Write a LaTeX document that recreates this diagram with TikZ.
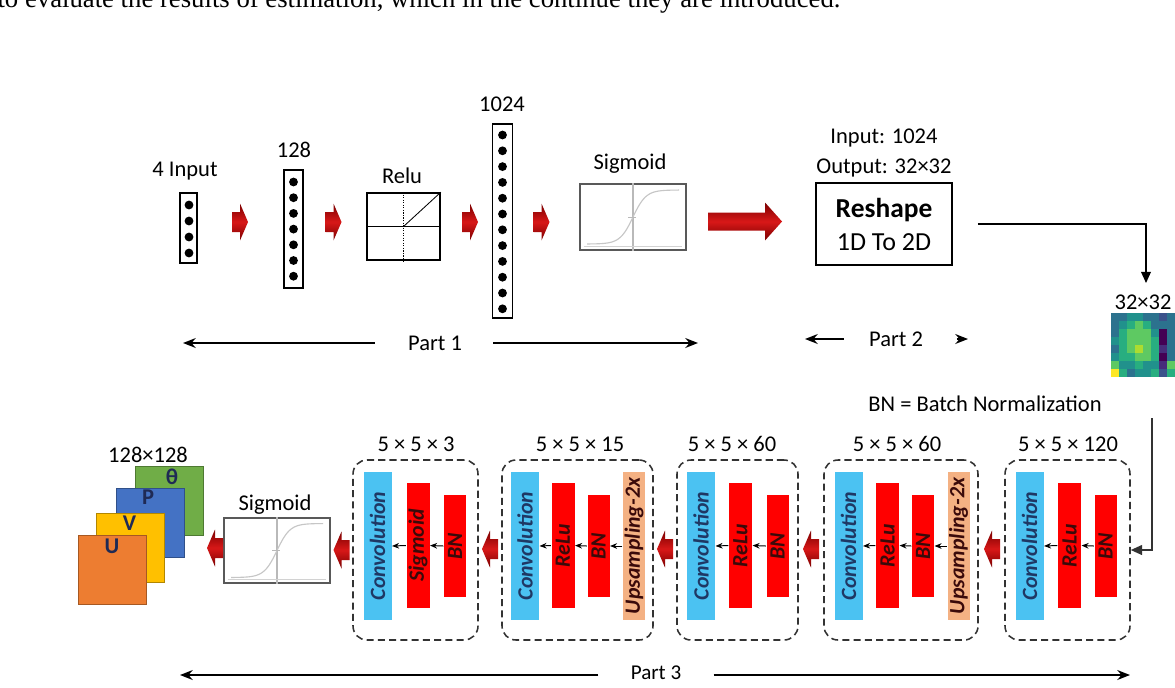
\documentclass[tikz,border=0pt]{standalone}
\usepackage{fontspec}
\setmainfont{Carlito}
\newfontfamily\pageserif{Liberation Serif}
\usetikzlibrary{arrows.meta,calc}

\definecolor{convblue}{HTML}{4BC2F2}
\definecolor{bnred}{HTML}{FF0000}
\definecolor{upsamp}{HTML}{F4B183}
\definecolor{convtext}{HTML}{1F3864}
\definecolor{redtext}{HTML}{3A0A0A}
\definecolor{chantext}{HTML}{1F2A55}
\definecolor{arrdark}{HTML}{7A0000}
\definecolor{arrlight}{HTML}{D81818}
\definecolor{chU}{HTML}{ED7D31}
\definecolor{chV}{HTML}{FFC000}
\definecolor{chP}{HTML}{4472C4}
\definecolor{chT}{HTML}{70AD47}
\definecolor{vir0}{HTML}{440154}
\definecolor{vir1}{HTML}{472D7B}
\definecolor{vir2}{HTML}{3B528B}
\definecolor{vir3}{HTML}{2C728E}
\definecolor{vir4}{HTML}{21918C}
\definecolor{vir5}{HTML}{28AE80}
\definecolor{vir6}{HTML}{5EC962}
\definecolor{vir7}{HTML}{ADDC30}
\definecolor{vir8}{HTML}{FDE725}

\tikzset{
  sz/.style 2 args={minimum width=#1*0.025cm, minimum height=#2*0.025cm, inner sep=0pt},
  layer/.style={draw, line width=1.2pt},
  plotbox/.style={draw=gray!70!black, line width=1.6pt, fill=white},
  stage/.style={draw=black!80, rounded corners=0.35cm, line width=1.1pt, dash pattern=on 5pt off 3pt},
  bar/.style={rotate=90, font=\fontsize{15.5}{17}\selectfont\bfseries\itshape, inner sep=0pt},
  conv/.style={bar, fill=convblue, text=convtext, sz={148}{28}},
  act/.style={bar, fill=bnred, text=redtext, sz={125}{23}},
  bn/.style={bar, fill=bnred, text=redtext, sz={102}{22}},
  ups/.style={bar, fill=upsamp, text=redtext, sz={148}{22}},
  flow/.style={-{Stealth[length=5pt,width=4pt]}, line width=0.7pt},
  part/.style={-{Stealth[length=9pt,width=7pt]}, line width=1.3pt},
  chan/.style={draw=#1!70!black, fill=#1, sz={68}{69}, line width=0.6pt},
  chanlbl/.style={font=\fontsize{16}{17}\selectfont\bfseries, text=chantext},
  pics/redarrow/.style n args={4}{code={
    \shade[top color=arrdark, bottom color=arrdark, middle color=arrlight]
      ({-#1/2},{-#3}) -- ({#1/2-#2},{-#3}) -- ({#1/2-#2},{-#4}) -- ({#1/2},0)
      -- ({#1/2-#2},{#4}) -- ({#1/2-#2},{#3}) -- ({-#1/2},{#3}) -- cycle;
  }}
}

\begin{document}
\begin{tikzpicture}[x=0.025cm, y=-0.025cm, thick,
  every node/.style={font=\fontsize{16}{18}\selectfont}]
\useasboundingbox (0,0) rectangle (1175,687);
\clip (0,0) rectangle (1175,687);

\node[anchor=base west, inner sep=0pt, font=\pageserif\fontsize{19}{22}\selectfont] (pagetext) at (-3,7.5)
  {to evaluate the results of estimation, which in the continue they are introduced.};

% dense part
\node[layer, sz={17}{70}] (inp) at (188.5,228) {};
\foreach \y in {205,221,237,253} \fill (189,\y) circle (0.11cm);
\node[layer, sz={19}{118}] (hid1) at (293.5,229) {};
\foreach \i in {0,...,6} \fill (293.5,{182+15.7*\i}) circle (0.11cm);
\node[layer, sz={73}{67}] (relu) at (403.5,226.5) {};
\draw (relu.west) -- (relu.east);
\draw[densely dotted] (relu.north) -- (relu.south);
\draw[line width=0.6pt] (relu.center) -- (relu.north east);
\node[layer, sz={20}{194}] (hid2) at (502.5,221) {};
\foreach \i in {0,...,11} \fill (502.5,{135+15.8*\i}) circle (0.11cm);
\node[plotbox, sz={106}{66}] (sig1) at (633,217) {};

\node (inptxt) at (185,171) {4 Input};
\node (hid1txt) at (294,150) {128};
\node (relutxt) at (402,176) {Relu};
\node (hid2txt) at (502,104) {1024};
\node (sig1txt) at (630,164) {Sigmoid};

\pic at (240,222) {redarrow={16}{8}{10}{18.5}};
\pic at (333.5,222) {redarrow={16}{8}{10}{18.5}};
\pic at (470,222) {redarrow={16}{8}{10}{18.5}};
\pic at (541.5,222) {redarrow={16}{8}{10}{18.5}};
\pic at (745,221.5) {redarrow={74}{17}{9}{19}};

% reshape
\node[draw, line width=1.2pt, sz={136}{82}, align=center, font=\fontsize{18.5}{23.5}\selectfont] (reshape) at (884,224)
  {{\fontsize{19.5}{23.5}\selectfont\bfseries Reshape}\\1D To 2D};
\node (reshin) at (884,138) {Input: 1024};
\node (reshout) at (884,168) {Output: 32×32};

\node[sz={64}{64}, anchor=north west] (field) at (1111,313) {};
\foreach \r [count=\j from 0] in {{3,3,4,4,3,3,2,3},{3,4,5,6,5,3,3,3},{3,5,6,6,6,4,0,3},{4,5,6,6,6,5,0,3},
    {3,5,6,7,6,5,1,3},{4,5,5,6,6,5,0,3},{6,4,4,5,4,4,1,6},{8,5,3,4,4,5,2,5}}
  \foreach \v [count=\i from 0] in \r
    \fill[vir\v] ({1111+8*\i},{313+8*\j}) rectangle +(8.4,8.4);
\node (fieldtxt) at (1143,302) {32×32};
\coordinate (fieldin) at (1146,283);
\draw[-{Triangle[length=8pt,width=7pt]}, line width=1pt] ([xshift=0.625cm]reshape.east) -| (fieldin);

% part labels
\node (part1) at (435,343) {Part 1};
\coordinate (p1l) at (183,343);
\coordinate (p1r) at (698,343);
\draw[part] ([xshift=-0.7cm]part1.west) -- (p1l);
\draw[part] ([xshift=0.65cm]part1.east) -- (p1r);
\node (part2) at (896,339) {Part 2};
\coordinate (p2l) at (805,339);
\coordinate (p2r) at (968,339);
\draw[part] ([xshift=-0.5cm]part2.west) -- (p2l);
\draw[part] ([xshift=0.72cm]part2.east) -- (p2r);
\node[font=\fontsize{15}{17}\selectfont] (part3) at (656,673) {Part 3};
\coordinate (p3l) at (180,675);
\coordinate (p3r) at (1130,675);
\draw[part] ([xshift=-0.68cm]part3.west |- p3l) -- (p3l);
\draw[part] ([xshift=0.68cm]part3.east |- p3r) -- (p3r);
\node (bnnote) at (985,404) {BN = Batch Normalization};

% output channels
\node[chan=chT] (chT) at (169,500.5) {};
\node[chan=chP] (chP) at (150,522.5) {};
\node[chan=chV] (chV) at (130.5,548) {};
\node[chan=chU] (chU) at (112,569.5) {};
\node[chanlbl] (tT) at ([shift={(3,11)}]chT.north) {θ};
\node[chanlbl] (tP) at ([shift={(-2,10)}]chP.north) {P};
\node[chanlbl] (tV) at ([shift={(-1,10)}]chV.north) {V};
\node[chanlbl] (tU) at ([shift={(0,12)}]chU.north) {U};
\node (chantxt) at (148,455) {128×128};

\node[plotbox, sz={106}{65}] (sig2) at (277,550.5) {};
\node (sig2txt) at (275,505) {Sigmoid};
\foreach \s in {sig1,sig2} {
  \draw[gray!55, line width=0.8pt] (\s.north) -- (\s.south);
  \draw[gray!35, line width=0.6pt] ([shift={(5,-5)}]\s.south west) -- ([shift={(-5,-5)}]\s.south east);
  \begin{scope}[shift={(\s.center)}]
    \draw[gray!45, line width=0.8pt] plot[domain=-46:46, samples=50] (\x,{-27*tanh(\x/13)});
    \draw[gray!55, line width=0.5pt] (-5,0) -- (3,0);
  \end{scope}
}

% decoder stages
\node[stage, sz={125}{180}] (st1) at (415.5,550) {};
\node[stage, sz={151}{180}] (st2) at (577.5,550) {};
\node[stage, sz={121}{180}] (st3) at (737.5,550) {};
\node[stage, sz={154}{180}] (st4) at (901,550) {};
\node[stage, sz={125}{180}] (st5) at (1067.5,550) {};
\node (st1txt) at (416,444) {5 × 5 × 3};
\node (st2txt) at (580,444) {5 × 5 × 15};
\node (st3txt) at (732,444) {5 × 5 × 60};
\node (st4txt) at (897,444) {5 × 5 × 60};
\node (st5txt) at (1068,444) {5 × 5 × 120};

\node[conv] (c1) at (377.5,546) {Convolution};
\node[act] (a1) at (418,545.5) {Sigmoid};
\node[bn] (n1) at (455,546) {BN};
\node[conv] (c2) at (525,546) {Convolution};
\node[act] (a2) at (563,545.5) {ReLu};
\node[bn] (n2) at (598.5,546) {BN};
\node[ups] (u2) at (634,546) {Upsampling-2x};
\node[conv] (c3) at (701,546) {Convolution};
\node[act] (a3) at (740.5,545.5) {ReLu};
\node[bn] (n3) at (777.5,546) {BN};
\node[conv] (c4) at (848.5,546) {Convolution};
\node[act] (a4) at (887.5,545.5) {ReLu};
\node[bn] (n4) at (923,546) {BN};
\node[ups] (u4) at (958.5,546) {Upsampling-2x};
\node[conv] (c5) at (1029.5,546) {Convolution};
\node[act] (a5) at (1069.5,545.5) {ReLu};
\node[bn] (n5) at (1105.5,546) {BN};

\draw[flow] (n1.north) -- (a1.south);
\draw[flow] (a1.north) -- (c1.south);
\draw[flow] (u2.north) -- (n2.south);
\draw[flow] (n2.north) -- (a2.south);
\draw[flow] (a2.north) -- (c2.south);
\draw[flow] (n3.north) -- (a3.south);
\draw[flow] (a3.north) -- (c3.south);
\draw[flow] (u4.north) -- (n4.south);
\draw[flow] (n4.north) -- (a4.south);
\draw[flow] (a4.north) -- (c4.south);
\draw[flow] (n5.north) -- (a5.south);
\draw[flow] (a5.north) -- (c5.south);

\pic[xscale=-1] at (215,548) {redarrow={16}{8}{10}{18.5}};
\pic[xscale=-1] at (341.5,550) {redarrow={16}{8}{10}{18.5}};
\pic[xscale=-1] at (490,549) {redarrow={16}{8}{10}{18.5}};
\pic[xscale=-1] at (665,549) {redarrow={16}{8}{10}{18.5}};
\pic[xscale=-1] at (811,549) {redarrow={16}{8}{10}{18.5}};
\pic[xscale=-1] at (992,549) {redarrow={16}{8}{10}{18.5}};

\coordinate (bnline) at (1152,418);
\draw[-{Triangle[length=8pt,width=7pt]}, gray!40!black, line width=1pt] (bnline) |- (st5.east);
\end{tikzpicture}
\end{document}
